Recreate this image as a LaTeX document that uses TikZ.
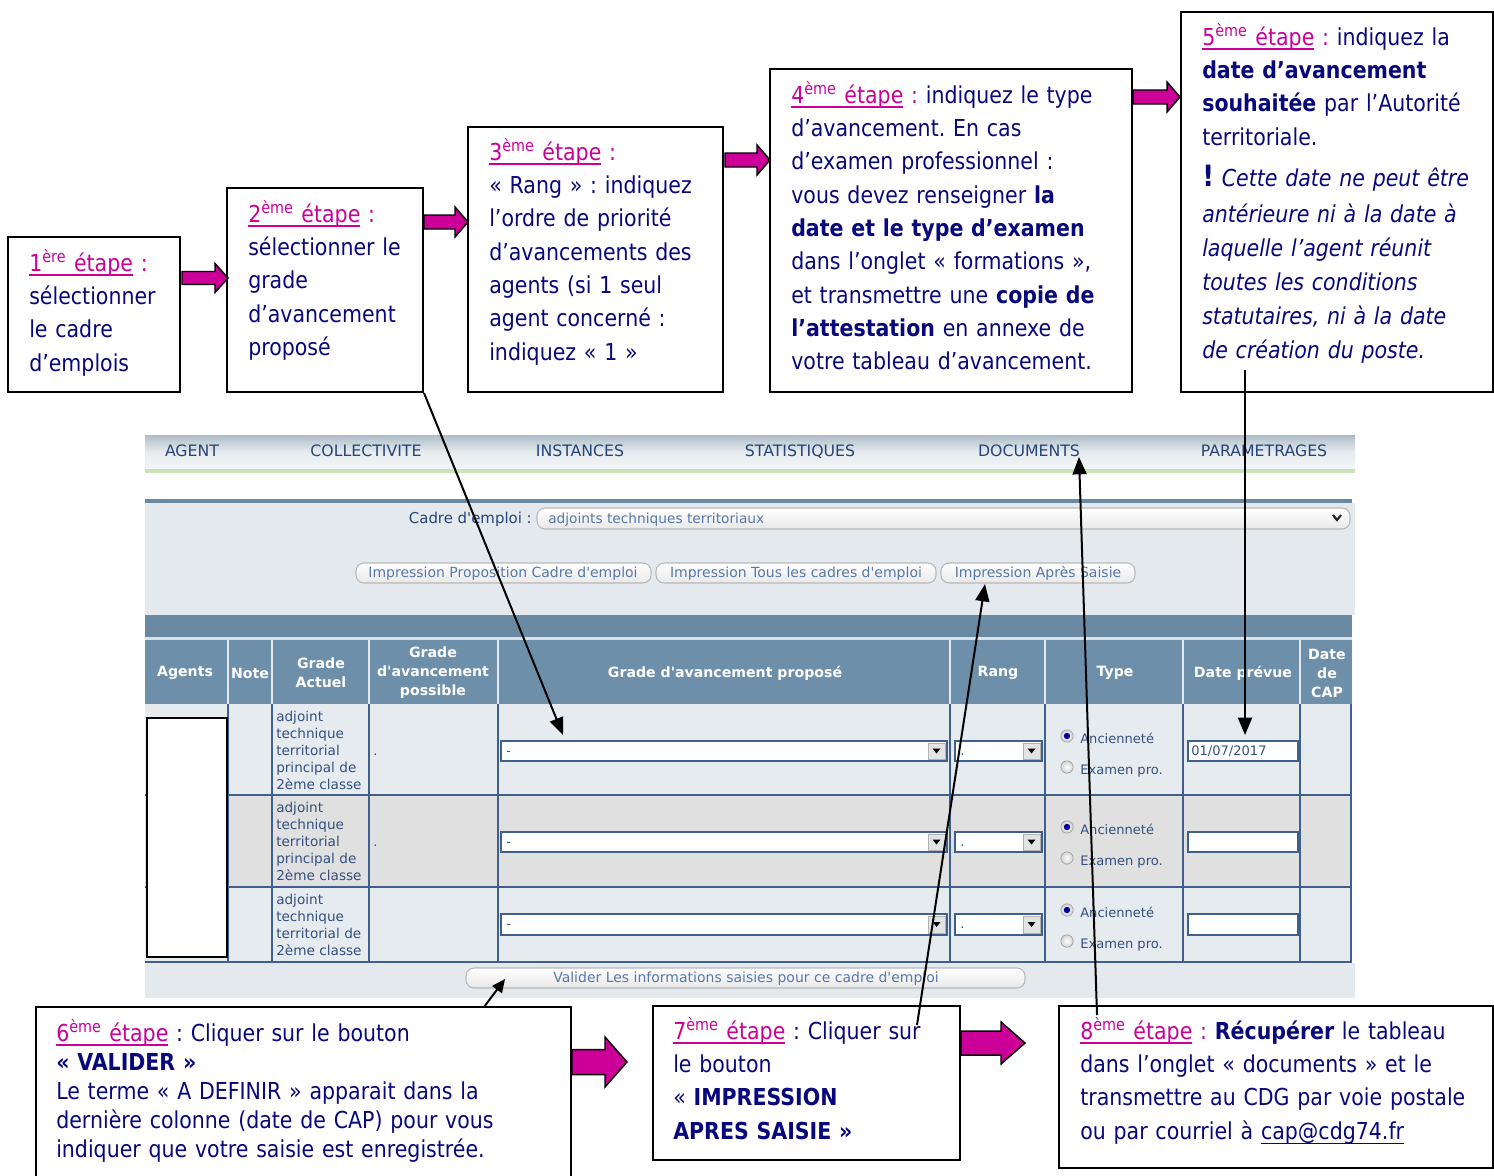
\documentclass[tikz,border=0pt]{standalone}
\usepackage{fontspec}
\setmainfont{DejaVu Sans}[FakeStretch=0.88]
\newfontfamily\verd{DejaVu Sans}
\usetikzlibrary{calc,arrows.meta,fit}

\definecolor{txtblue}{HTML}{08087C}
\definecolor{mag}{HTML}{CC0099}
\definecolor{panelbg}{HTML}{E4E9EE}
\definecolor{rowlight}{HTML}{E6EBF0}
\definecolor{rowgray}{HTML}{E0E0E0}
\definecolor{hdrblue}{HTML}{6E8FAA}
\definecolor{barblue}{HTML}{6A89A3}
\definecolor{gridblue}{HTML}{3F5F8C}
\definecolor{menutxt}{HTML}{264478}
\definecolor{btntxt}{HTML}{5878A6}
\definecolor{fieldtxt}{HTML}{34507E}
\definecolor{menutop}{HTML}{AEBDC8}
\definecolor{menubot}{HTML}{F2F6F8}
\definecolor{menugreen}{HTML}{C9E2B8}

% underline drawn close to the baseline
\newcommand\ulbar[2][1.1pt]{\setbox0\hbox{#2}\rlap{\rule[-3.6pt]{\wd0}{#1}}\box0}
\newcommand\etape[2]{\textcolor{mag}{\ulbar{#1\textsuperscript{#2} étape}}}
\newcommand\magcolon{\ \textcolor{mag}{:}}

\tikzset{
  stepbox/.style={draw=black, line width=1.5pt, fill=white, inner sep=0pt},
  boxtxt/.style={anchor=base west, inner sep=0pt, align=left, text width=420pt,
                 text=txtblue, font=\fontsize{17.5}{25}\selectfont\frenchspacing},
  blockarr/.style={fill=mag, draw=black, line width=1.1pt, line join=miter},
  conn/.style={line width=1.5pt, draw=black, -{Triangle[length=13pt,width=10.5pt]}},
  menu/.style={font=\verd\fontsize{11.8}{13}\selectfont, text=menutxt, inner sep=0pt, anchor=base},
  btn/.style={draw=gray!55, line width=0.8pt, rounded corners=6pt, top color=white, bottom color=gray!18},
  btntext/.style={font=\verd\fontsize{10.5}{12}\selectfont, text=btntxt, inner sep=0pt, anchor=base},
  hdr/.style={font=\verd\bfseries\fontsize{10.6}{14.25}\selectfont, text=white, align=center, inner sep=0pt},
  cell/.style={font=\verd\fontsize{10.2}{12.75}\selectfont, text=fieldtxt, anchor=base west,
               align=left, text width=72pt, inner sep=0pt},
  small/.style={font=\verd\fontsize{9.8}{12}\selectfont, text=fieldtxt, anchor=base west, inner sep=0pt},
  field/.style={fill=white, draw=gridblue, line width=0.8pt},
  grid/.style={draw=gridblue, line width=1.2pt},
  hdrsep/.style={draw=white!80!hdrblue, line width=1.1pt},
}

% horizontal block arrow: x start, x tip, y centre, shaft half, head half, head length
\newcommand\blockarrow[6]{%
  \draw[blockarr] ({#1},{#3-#4}) -- ({#2-#6},{#3-#4}) -- ({#2-#6},{#3-#5}) -- ({#2},{#3})
    -- ({#2-#6},{#3+#5}) -- ({#2-#6},{#3+#4}) -- ({#1},{#3+#4}) -- cycle;}

% select box with its drop-down button
\newcommand\dropdown[5]{% x1,y1,x2,y2,text
  \draw[field] (#1,#2) rectangle (#3,#4);
  \fill[gray!22] ({#3-19},{#2+2}) rectangle ({#3-2},{#4-2});
  \draw[gray!60, line width=0.6pt] ({#3-19},{#2+2}) rectangle ({#3-2},{#4-2});
  \fill[black] ({#3-14.5},{(#2+#4)/2-2.5}) -- ({#3-6.5},{(#2+#4)/2-2.5}) -- ({#3-10.5},{(#2+#4)/2+2.5}) -- cycle;
  \node[small] at ({#1+5},{(#2+#4)/2+4}) {#5};}

% pair of radio buttons, first one selected
\newcommand\radios[1]{% y of first button
  \foreach \dy/\sel in {0/1,31/0}{
    \shade[inner color=white, outer color=gray!35, draw=gray!70, line width=0.6pt] (1067,{#1+\dy}) circle[radius=4.6pt];
    \ifnum\sel=1 \fill[blue!60!black] (1067,{#1+\dy}) circle[radius=2.4pt];\fi
  }
  \node[small] at (1080,{#1+7}) {Ancienneté};
  \node[small] at (1080,{#1+38}) {Examen pro.};}

\begin{document}
\frenchspacing
\begin{tikzpicture}[x=0.75pt,y=-0.75pt]
\useasboundingbox (0,0) rectangle (1494,1175);
\fill[white] (0,0) rectangle (1494,1175);

% ---------- application screen ----------
\shade[top color=menutop, bottom color=menubot, middle color=white!70!menutop] (145,435) rectangle (1355,469);
\fill[menugreen] (145,469) rectangle (1355,473);
\node[menu] (m1) at (192,456) {AGENT};
\node[menu] (m2) at (366,456) {COLLECTIVITE};
\node[menu] (m3) at (580,456) {INSTANCES};
\node[menu] (m4) at (800,456) {STATISTIQUES};
\node[menu] (mdoc) at (1029,456) {DOCUMENTS};
\node[menu] (m6) at (1264,456) {PARAMETRAGES};

\fill[barblue] (145,499) rectangle (1352,503);
\fill[panelbg] (145,503) rectangle (1355,615);
\node[font=\verd\fontsize{11.2}{12}\selectfont, text=menutxt, anchor=base east, inner sep=0pt] (cadre) at (532,523) {Cadre d'emploi :};
\draw[btn] (537,508) rectangle (1350,529);
\node[font=\verd\fontsize{10.3}{12}\selectfont, text=btntxt, anchor=base west, inner sep=0pt] (cadreval) at (548,523) {adjoints techniques territoriaux};
\draw[line width=1.6pt, gray!30!black] (1333,515) -- (1337,520) -- (1341,515);

\draw[btn] (356,563) rectangle (651,583);
\node[btntext] (bprop) at (503,577) {Impression Proposition Cadre d'emploi};
\draw[btn] (656,563) rectangle (936,583);
\node[btntext] (btous) at (796,577) {Impression Tous les cadres d'emploi};
\draw[btn] (941,563) rectangle (1135,583);
\node[btntext] (bapres) at (1038,577) {Impression Après Saisie};

\fill[barblue] (145,615) rectangle (1352,637);
\fill[white!75!hdrblue] (145,637) rectangle (1352,640);
\fill[hdrblue] (145,640) rectangle (1352,704);
\fill[rowlight] (145,704) rectangle (1352,795);
\fill[rowgray] (145,795) rectangle (1352,887);
\fill[rowlight] (145,887) rectangle (1352,962);
\fill[panelbg] (145,963) rectangle (1355,998);

% header
\foreach \x in {228,272,369,498,950,1045,1183,1300}{\draw[hdrsep] (\x,640) -- (\x,704);}
\node[hdr] (h1) at (185,673) {Agents};
\node[hdr] (h2) at (250,673) {Note};
\node[hdr] (h3) at (321,673) {Grade\\Actuel};
\node[hdr] (h4) at (433,673) {Grade\\d'avancement\\possible};
\node[hdr] (h5) at (725,673) {Grade d'avancement proposé};
\node[hdr] (h6) at (998,673) {Rang};
\node[hdr] (h7) at (1115,673) {Type};
\node[hdr] (h8) at (1243,673) {Date prévue};
\node[hdr] (h9) at (1327,673) {Date\\de\\CAP};

% body grid
\foreach \x in {228,369,498,950,1045,1300,1351}{\draw[grid] (\x,704) -- (\x,962);}
\foreach \x in {272,1183}{\draw[grid, line width=2.2pt] (\x,704) -- (\x,962);}
\foreach \y in {795,887,962}{\draw[grid] (145,\y) -- (1352,\y);}

% rows
\node[cell] (g1) at (276,721) {adjoint\\technique\\territorial\\principal de\\2ème classe};
\node[cell] (g2) at (276,812) {adjoint\\technique\\territorial\\principal de\\2ème classe};
\node[cell] (g3) at (276,904) {adjoint\\technique\\territorial de\\2ème classe};
\node[small] (p1) at (373,755) {.};
\node[small] (p2) at (373,846) {.};

\dropdown{501}{741}{947}{761}{-}
\dropdown{501}{832}{947}{852}{-}
\dropdown{501}{914}{947}{935}{-}
\dropdown{955}{741}{1042}{761}{.}
\dropdown{955}{832}{1042}{852}{.}
\dropdown{955}{914}{1042}{935}{.}
\radios{736}
\radios{827}
\radios{910}
\draw[field] (1188,741) rectangle (1298,761);
\node[small] (dt1) at (1191,755) {01/07/2017};
\draw[field] (1188,832) rectangle (1298,852);
\draw[field] (1188,914) rectangle (1298,935);

\fill[white, draw=black, line width=1.5pt] (147,718) rectangle (227,957);

\draw[btn] (466,968) rectangle (1025,988);
\node[btntext] (bvalider) at (746,982) {Valider Les informations saisies pour ce cadre d'emploi};

% ---------- step boxes ----------
\node[stepbox, fit={(8,237) (180,392)}] (b1) {};
\node[stepbox, fit={(227,188) (423,392)}] (b2) {};
\node[stepbox, fit={(468,127) (723,392)}] (b3) {};
\node[stepbox, fit={(770,69) (1132,392)}] (b4) {};
\node[stepbox, fit={(1181,12) (1493,392)}] (b5) {};
\node[stepbox, fit={(36,1007) (571,1190)}] (b6) {};
\node[stepbox, fit={(653,1006) (960,1160)}] (b7) {};
\node[stepbox, fit={(1059,1006) (1493,1168)}] (b8) {};

\node[boxtxt] (t1) at (29,271) {\etape{1}{ère}\magcolon\\
sélectionner\\le cadre\\d’emplois};
\node[boxtxt] (t2) at (248,222) {\etape{2}{ème}\magcolon\\
sélectionner le\\grade\\d’avancement\\proposé};
\node[boxtxt] (t3) at (489,160) {\etape{3}{ème}\magcolon\\
« Rang » : indiquez\\l’ordre de priorité\\d’avancements des\\agents (si 1 seul\\agent concerné :\\indiquez « 1 »};
\node[boxtxt] (t4) at (791,103) {\etape{4}{ème}\magcolon{} indiquez le type\\
d’avancement. En cas\\d’examen professionnel :\\vous devez renseigner \textbf{la}\\
\textbf{date et le type d’examen}\\dans l’onglet « formations »,\\
et transmettre une \textbf{copie de}\\\textbf{l’attestation} en annexe de\\votre tableau d’avancement.};
\node[boxtxt] (t5) at (1202,45) {\etape{5}{ème}\magcolon{} indiquez la\\
\textbf{date d’avancement}\\\textbf{souhaitée} par l’Autorité\\territoriale.\\[6pt]
{\fontsize{22}{25}\selectfont\bfseries !} \textit{Cette date ne peut être}\\[2pt]
\textit{antérieure ni à la date à}\\[0.5pt]\textit{laquelle l’agent réunit}\\[0.5pt]
\textit{toutes les conditions}\\[0.5pt]\textit{statutaires, ni à la date}\\[0.5pt]\textit{de création du poste.}};
\node[boxtxt, font=\fontsize{17.5}{21.75}\selectfont\frenchspacing] (t6) at (56,1041) {\etape{6}{ème} : Cliquer sur le bouton\\
\textbf{« VALIDER »}\\Le terme « A DEFINIR » apparait dans la\\
dernière colonne (date de CAP) pour vous\\indiquer que votre saisie est enregistrée.};
\node[boxtxt] (t7) at (673,1039) {\etape{7}{ème} : Cliquer sur\\le bouton\\
« \textbf{IMPRESSION}\\\textbf{APRES SAISIE »}};
\node[boxtxt] (t8) at (1080,1039) {\etape{8}{ème}\magcolon{} \textbf{Récupérer} le tableau\\
dans l’onglet « documents » et le\\transmettre au CDG par voie postale\\
ou par courriel à \ulbar[0.9pt]{cap@cdg74.fr}};

% ---------- block arrows between steps ----------
\blockarrow{182}{228}{278}{6.5}{14.5}{13}
\blockarrow{424}{468}{222}{7}{15}{13}
\blockarrow{725}{770}{160}{7}{15}{13}
\blockarrow{1133}{1180}{97}{7}{15}{13}
\blockarrow{572}{627}{1062}{12.5}{25}{22}
\blockarrow{961}{1025}{1043}{12}{21}{24}

% ---------- pointers into the screen ----------
\coordinate (to2) at (563,735);
\coordinate (from5) at (1245,370);
\coordinate (to5) at (1245,735);
\coordinate (from6) at (484,1007);
\coordinate (to6) at (505,979);
\coordinate (from7) at (917,1025);
\coordinate (to7) at (985,584);
\coordinate (from8) at (1097,1015);
\coordinate (to8) at (1079,457);
\draw[conn] (b2.south east) -- (to2);
\draw[conn] (from5) -- (to5);
\draw[line width=1.5pt, -{Triangle[length=10pt,width=9pt]}] (from6) -- (to6);
\draw[conn] (from7) -- (to7);
\draw[conn] (from8) -- (to8);
\end{tikzpicture}
\end{document}
